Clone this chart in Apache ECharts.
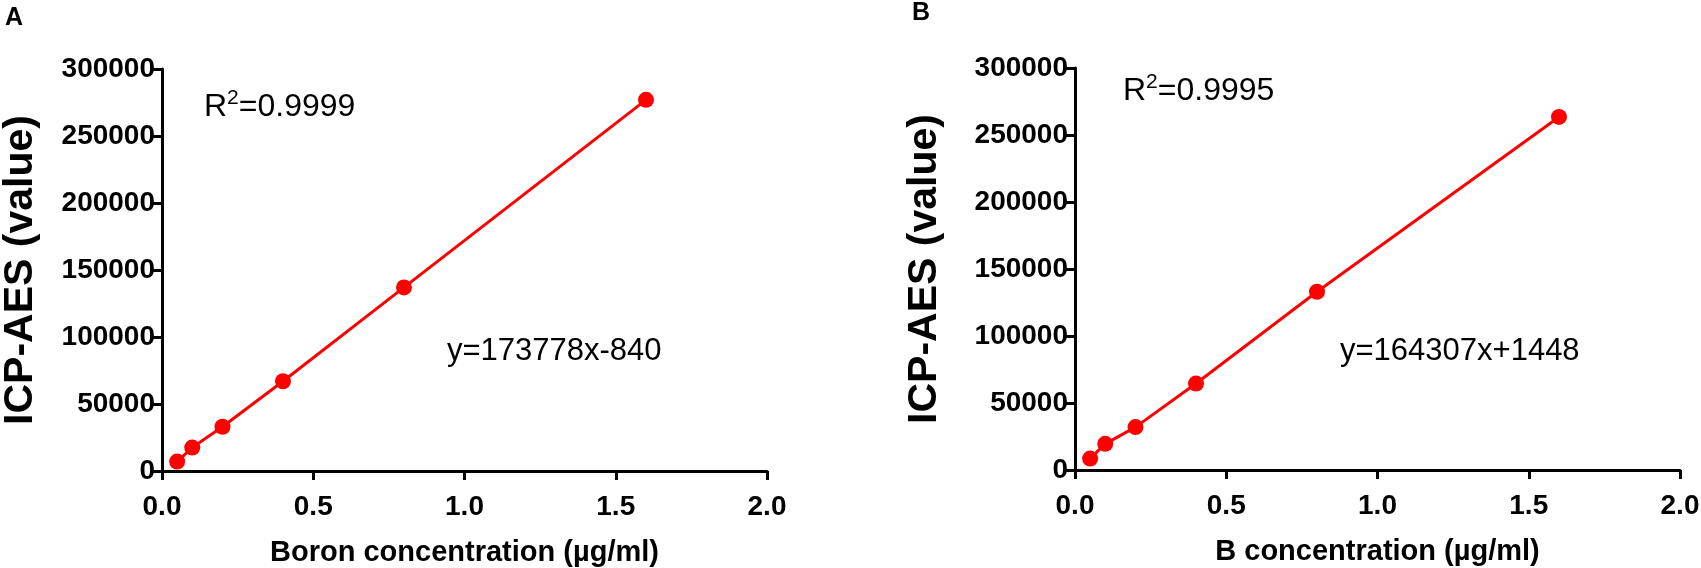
<!DOCTYPE html>
<html>
<head>
<meta charset="utf-8">
<script src="https://cdn.jsdelivr.net/npm/echarts@6/dist/echarts.min.js"></script>
<style>
html, body { margin: 0; padding: 0; background: #fff; }
#main { width: 1701px; height: 568px; }
</style>
</head>
<body>
<div id="main"></div>
<script>
// concentrations (ug/ml)
var concA = [0.05, 0.1, 0.2, 0.4, 0.8, 1.6];
var concB = [0.05, 0.1, 0.2, 0.4, 0.8, 1.6];
// ICP-AES readings
var valuesA = [7000, 17500, 33000, 67000, 137000, 277000];
var valuesB = [8500, 19500, 32000, 64500, 133000, 263500];
var xTicks = [0, 0.5, 1.0, 1.5, 2.0];
var yTicks = [0, 50000, 100000, 150000, 200000, 250000, 300000];

var FONT = 'Liberation Sans, Arial, sans-serif';

function pairs(xs, ys) {
    return xs.map(function (x, i) { return [x, ys[i]]; });
}

function xAxisOf(idx, title) {
    return {
        gridIndex: idx,
        type: 'value',
        min: xTicks[0],
        max: xTicks[xTicks.length - 1],
        interval: 0.5,
        name: title,
        nameLocation: 'middle',
        nameGap: 67,
        nameTextStyle: { fontFamily: FONT, fontSize: 29, fontWeight: 'bold', color: '#000' },
        axisLine: { show: true, lineStyle: { color: '#000', width: 3 } },
        axisTick: { show: true, length: 9, lineStyle: { color: '#000', width: 3 } },
        axisLabel: {
            fontFamily: FONT, fontSize: 28, fontWeight: 'bold', color: '#000', margin: 22,
            formatter: function (v) { return v.toFixed(1); }
        },
        splitLine: { show: false }
    };
}

function yAxisOf(idx, gap) {
    return {
        gridIndex: idx,
        type: 'value',
        min: yTicks[0],
        max: yTicks[yTicks.length - 1],
        interval: 50000,
        name: 'ICP-AES (value)',
        nameLocation: 'middle',
        nameGap: gap,
        nameTextStyle: { fontFamily: FONT, fontSize: 41, fontWeight: 'bold', color: '#000' },
        axisLine: { show: true, lineStyle: { color: '#000', width: 3 } },
        axisTick: { show: true, length: 9, lineStyle: { color: '#000', width: 3 } },
        axisLabel: {
            fontFamily: FONT, fontSize: 28, fontWeight: 'bold', color: '#000', margin: 7,
            formatter: function (v) { return String(v); }
        },
        splitLine: { show: false }
    };
}

function seriesOf(idx, xs, ys) {
    return {
        type: 'line',
        xAxisIndex: idx,
        yAxisIndex: idx,
        data: pairs(xs, ys),
        symbol: 'circle',
        symbolSize: 16,
        smooth: false,
        lineStyle: { color: '#ff0000', width: 3 },
        itemStyle: { color: '#ff0000' },
        z: 5
    };
}

var rich = {
    n: { fontFamily: FONT, fontSize: 32, color: '#000' },
    s: { fontFamily: FONT, fontSize: 21, color: '#000', verticalAlign: 'top', padding: [0, 0, 18, 0] }
};

function note(x, y, txt, r) {
    return {
        type: 'text', left: x, top: y,
        style: r ? { text: txt, rich: rich } :
            { text: txt, fontFamily: FONT, fontSize: 31, fill: '#000' }
    };
}

var chart = echarts.init(document.getElementById('main'), null, { renderer: 'canvas' });
chart.setOption({
    backgroundColor: '#fff',
    animation: false,
    grid: [
        { left: 162, right: 934, top: 69, bottom: 97, outerBoundsMode: 'none', containLabel: false },
        { left: 1075, right: 21, top: 68, bottom: 98, outerBoundsMode: 'none', containLabel: false }
    ],
    xAxis: [xAxisOf(0, 'Boron concentration (µg/ml)'), xAxisOf(1, 'B concentration (µg/ml)')],
    yAxis: [yAxisOf(0, 121), yAxisOf(1, 130)],
    series: [seriesOf(0, concA, valuesA), seriesOf(1, concB, valuesB)],
    graphic: [
        { type: 'text', left: 5, top: 6, style: { text: 'A', fontFamily: FONT, fontSize: 25, fontWeight: 'bold', fill: '#000' } },
        { type: 'text', left: 912, top: 1, style: { text: 'B', fontFamily: FONT, fontSize: 25, fontWeight: 'bold', fill: '#000' } },
        note(204, 88, '{n|R}{s|2}{n|=0.9999}', true),
        note(1123, 72, '{n|R}{s|2}{n|=0.9995}', true),
        note(447, 336, 'y=173778x-840', false),
        note(1340, 336, 'y=164307x+1448', false)
    ]
});
</script>
</body>
</html>
